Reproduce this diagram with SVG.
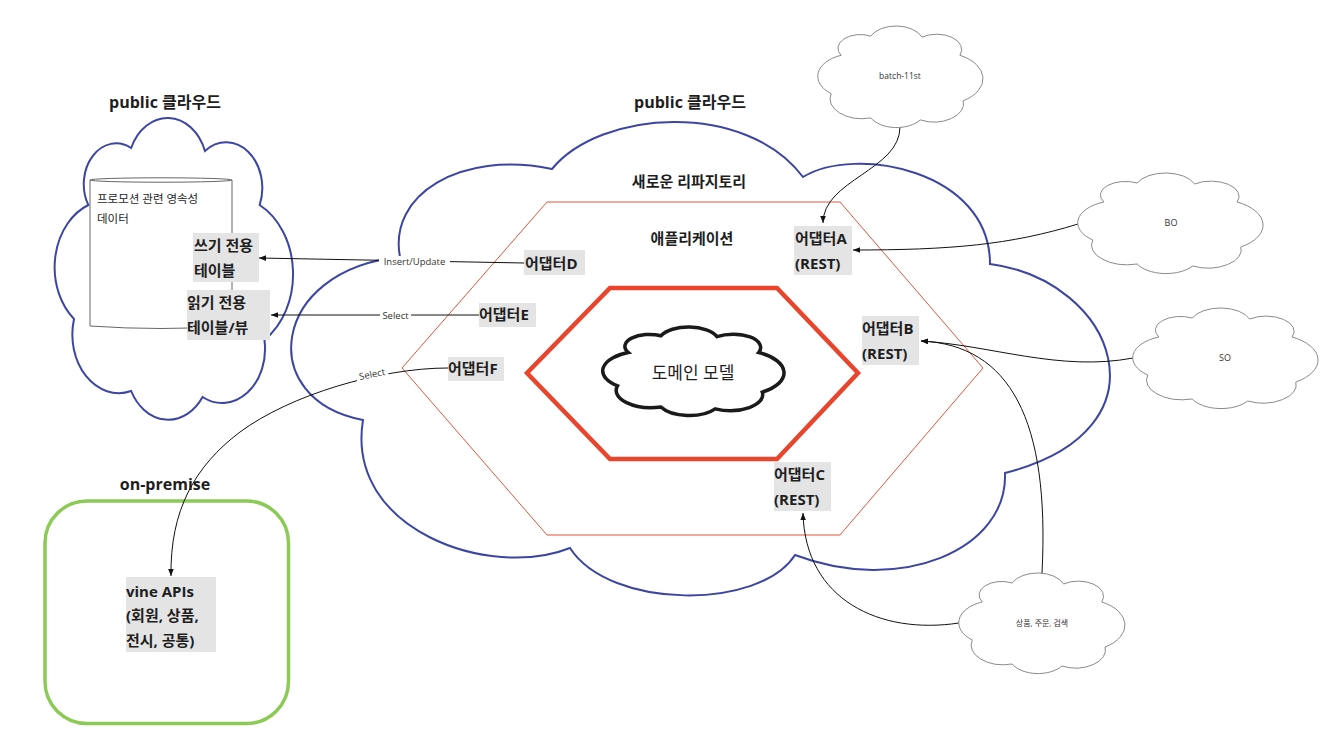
<svg xmlns="http://www.w3.org/2000/svg" width="1340" height="746" viewBox="0 0 1340 746">
<style>
text { font-family: 'Open Sans','Noto Sans CJK KR',sans-serif; fill:#1e1e1e; }
.title { font-size:16px; font-weight:700; text-anchor:middle; }
.sub { font-size:15px; font-weight:700; text-anchor:middle; }
.ad { font-size:15px; font-weight:700; }
.box { fill:#e4e4e4; }
.lbl { font-size:9.5px; fill:#333; text-anchor:middle; }
.cl { font-size:9px; fill:#333; text-anchor:middle; }
.conn { fill:none; stroke:#111; stroke-width:1; }
.blue { fill:none; stroke:#3c46a2; stroke-width:2; }
.gray { fill:#fff; stroke:#8a8a8a; stroke-width:1; }
.dom { fill:#fff; stroke:#1a1a1a; stroke-width:3.5; }
.bg { fill:#fff; }
</style>
<defs>
<path id="cloud" vector-effect="non-scaling-stroke" d="M14,29 A13.6,13.6 0 0 1 32,10 A16.7,16.7 0 0 1 63,11 A15.2,15.2 0 0 1 86,29 A26,26 0 0 1 88,74 A18,18 0 0 1 62,93 A17.5,17.5 0 0 1 32,91 A19.5,19.5 0 0 1 8,67 A22.3,22.3 0 0 1 14,29 Z"/>
<marker id="arr" viewBox="0 0 10 10" refX="10" refY="5" markerWidth="7" markerHeight="7" orient="auto" markerUnits="userSpaceOnUse"><path d="M0,1 L10,5 L0,9 Z" fill="#111"/></marker>
</defs>

<g id="left-cloud">
<use href="#cloud" class="blue" transform="translate(55,118) scale(2.38,3.0)"/>
<text class="title" x="165" y="108">public 클라우드</text>
</g>

<g id="main-cloud">
<path class="blue" d="M400,257 C388,195 460,150 552,169 C600,110 745,100 803,177 C855,145 990,170 990,264 C1115,280 1175,430 1005,473 C1008,550 900,595 795,555 C760,610 610,610 570,548 C490,580 345,530 363,420 C255,400 270,270 400,257 Z"/>
<text class="title" x="690" y="108">public 클라우드</text>
<text class="sub" x="689" y="187">새로운 리파지토리</text>
</g>

<g id="application">
<polygon points="547,202 840,202 983,368 840,535 547,535 402,368" fill="none" stroke="#e4553a" stroke-width="1"/>
<text class="sub" x="692" y="244">애플리케이션</text>
</g>

<g id="domain-hex">
<polygon points="527,373 610,288 777,288 858,373 777,459 610,459" fill="none" stroke="#e8452c" stroke-width="4.5"/>
</g>

<g id="db">
<path d="M90,180 L90,326 Q161,331 232,326 L232,180" fill="#fff" stroke="#666" stroke-width="1"/>
<ellipse cx="161" cy="180" rx="71" ry="2.2" fill="#fff" stroke="#666" stroke-width="1"/>
<text x="97" y="203" style="font-size:11.5px;font-weight:400" fill="#333">프로모션 관련 영속성</text>
<text x="97" y="223" style="font-size:11.5px;font-weight:400" fill="#333">데이터</text>
</g>

<g id="on-premise">
<rect x="45" y="501" width="243.5" height="222.5" rx="42" fill="none" stroke="#8bcb55" stroke-width="3.5"/>
<text class="title" x="165" y="490">on-premise</text>
</g>

<g id="connectors">
<path class="conn" d="M524,263 L259,258" marker-end="url(#arr)"/>
<path class="conn" d="M479,315 L271,315" marker-end="url(#arr)"/>
<path class="conn" d="M448,368 C380,368 290,395 240,432 C195,466 170,510 171,576" marker-end="url(#arr)"/>
<path class="conn" d="M900,127 C900,170 823,180 823,223" marker-end="url(#arr)"/>
<path class="conn" d="M1078,224 C1010,245 950,250 853,250" marker-end="url(#arr)"/>
<path class="conn" d="M1133,358 C1060,372 990,345 921,341" marker-end="url(#arr)"/>
<path class="conn" d="M1042,573 C1050,420 1010,345 921,341" marker-end="url(#arr)"/>
<path class="conn" d="M959,623 C880,635 805,600 803,513" marker-end="url(#arr)"/>
<rect class="bg" x="379" y="256" width="71" height="11"/>
<text class="lbl" x="414.5" y="264.5">Insert/Update</text>
<rect class="bg" x="380" y="309.5" width="31" height="11"/>
<text class="lbl" x="395.5" y="318.5">Select</text>
<g transform="rotate(-11 372 374)">
<rect class="bg" x="356" y="368.5" width="32" height="11"/>
<text class="lbl" x="372" y="377.5">Select</text>
</g>
</g>

<g id="write-table">
<rect class="box" x="193" y="233" width="66" height="49"/>
<text class="ad" x="194" y="251">쓰기 전용</text>
<text class="ad" x="194" y="276">테이블</text>
</g>
<g id="read-table">
<rect class="box" x="187" y="290" width="83" height="50"/>
<text class="ad" x="187" y="308">읽기 전용</text>
<text class="ad" x="187" y="333">테이블/뷰</text>
</g>

<g id="adapter-d">
<rect class="box" x="524" y="250" width="61" height="25"/>
<text class="ad" x="525" y="269">어댑터D</text>
</g>
<g id="adapter-e">
<rect class="box" x="479" y="303" width="57" height="24"/>
<text class="ad" x="479" y="320">어댑터E</text>
</g>
<g id="adapter-f">
<rect class="box" x="448" y="357" width="56" height="24"/>
<text class="ad" x="448" y="374">어댑터F</text>
</g>
<g id="adapter-a">
<rect class="box" x="794" y="226" width="58" height="49"/>
<text class="ad" x="795" y="244">어댑터A</text>
<text class="ad" x="795" y="269">(REST)</text>
</g>
<g id="adapter-b">
<rect class="box" x="862" y="316" width="57" height="49"/>
<text class="ad" x="862" y="334">어댑터B</text>
<text class="ad" x="862" y="359">(REST)</text>
</g>
<g id="adapter-c">
<rect class="box" x="774" y="462" width="57" height="49"/>
<text class="ad" x="774" y="480">어댑터C</text>
<text class="ad" x="774" y="505">(REST)</text>
</g>

<g id="vine-apis">
<rect class="box" x="126" y="577" width="90" height="75"/>
<text class="ad" x="126" y="597">vine APIs</text>
<text class="ad" x="126" y="621">(회원, 상품,</text>
<text class="ad" x="126" y="646">전시, 공통)</text>
</g>

<g id="domain-model">
<use href="#cloud" class="dom" transform="translate(603,327) scale(1.81,0.88)"/>
<text x="693" y="379" style="font-size:17px;text-anchor:middle">도메인 모델</text>
</g>

<g id="batch-11st">
<use href="#cloud" class="gray" transform="translate(818,26) scale(1.65,1.01)"/>
<text class="cl" x="900" y="79" style="font-size:8.5px">batch-11st</text>
</g>
<g id="bo">
<use href="#cloud" class="gray" transform="translate(1078,173) scale(1.85,1.0)"/>
<text class="cl" x="1171" y="226">BO</text>
</g>
<g id="so">
<use href="#cloud" class="gray" transform="translate(1133,308) scale(1.85,1.0)"/>
<text class="cl" x="1225" y="361">SO</text>
</g>
<g id="product-order-search">
<use href="#cloud" class="gray" transform="translate(959,573) scale(1.66,1.0)"/>
<text class="cl" x="1042" y="626" style="font-size:8px">상품, 주문, 검색</text>
</g>
</svg>
